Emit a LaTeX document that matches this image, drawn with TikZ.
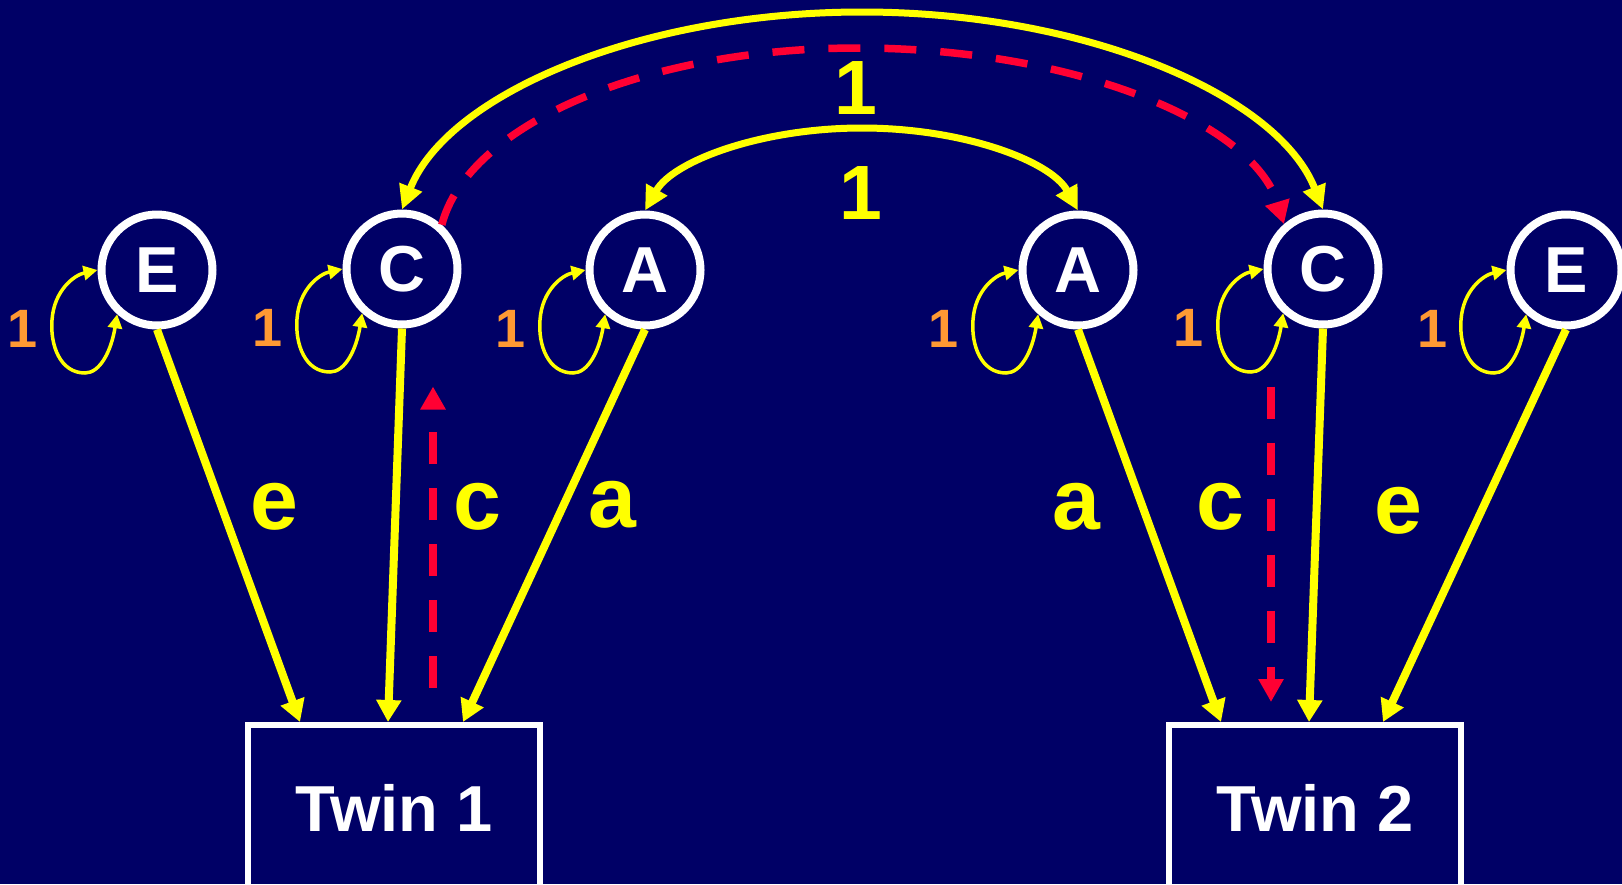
\documentclass[tikz,border=0pt]{standalone}
\usepackage{fontspec}
\setmainfont{Liberation Sans}
\usetikzlibrary{arrows.meta,calc}
\definecolor{bgnavy}{RGB}{0,0,102}
\definecolor{yel}{RGB}{255,255,0}
\definecolor{redd}{RGB}{255,0,51}
\definecolor{orng}{RGB}{255,153,51}
\newcommand\drawloop[1]{%
  \draw[loopst] (#1.-132) .. controls +(-6,37) and +(15,0) .. ($(#1)+(-72,103)$)
     .. controls +(-25,0) and +(-2,25) .. ($(#1)+(-105,50)$)
     .. controls +(2,-30) and +(-23,5) .. (#1.180);
  \node[varlab] (#1one) at ($(#1)+(-134,59)$) {1};}
\begin{document}
\begin{tikzpicture}[x=1pt,y=-1pt,
  latent/.style={circle,draw=white,line width=8pt,minimum size=111pt,inner sep=0pt,
    text=white,font=\fontsize{65}{65}\selectfont\bfseries},
  twin/.style={rectangle,draw=white,line width=6pt,minimum width=292pt,minimum height=166pt,
    anchor=north,text=white,font=\fontsize{65}{65}\selectfont\bfseries},
  ypath/.style={draw=yel,line width=8pt,-{Triangle[length=22pt,width=24pt]}},
  yarc/.style={draw=yel,line width=7pt,{Triangle[length=24pt,width=23pt]}-{Triangle[length=24pt,width=23pt]}},
  rdash/.style={draw=redd,line width=7.5pt,dash pattern=on 32pt off 24pt,-{Triangle[length=23pt,width=24pt]}},
  loopst/.style={draw=yel,line width=3.5pt,{Triangle[length=14pt,width=14pt]}-{Triangle[length=14pt,width=14pt]}},
  varlab/.style={text=orng,font=\fontsize{54}{54}\selectfont\bfseries,inner sep=0pt},
  plab/.style={text=yel,font=\fontsize{86}{86}\selectfont\bfseries,inner sep=0pt},
  corlab/.style={text=yel,font=\fontsize{77}{77}\selectfont\bfseries,inner sep=0pt}]
\useasboundingbox (0,0) rectangle (1622,884);
\clip (0,0) rectangle (1622,884);
\fill[bgnavy] (0,0) rectangle (1622,884);

% latent variables
\node[latent] (E1) at (157,270) {E};
\node[latent] (C1) at (402,269) {C};
\node[latent] (A1) at (645,270) {A};
\node[latent] (A2) at (1078,270) {A};
\node[latent] (C2) at (1323,269) {C};
\node[latent] (E2) at (1566,270) {E};

% observed twins
\node[twin] (T1) at (394,722) {Twin 1};
\node[twin] (T2) at (1315,722) {Twin 2};

% self loops (variances)
\drawloop{E1}
\drawloop{C1}
\drawloop{A1}
\drawloop{A2}
\drawloop{C2}
\drawloop{E2}

% paths
\draw[ypath] (E1.south) -- ([xshift=-94pt]T1.north);
\draw[ypath] (C1.south) -- ([xshift=-6pt]T1.north);
\draw[ypath] (A1.south) -- ([xshift=69pt]T1.north);
\draw[ypath] (A2.south) -- ([xshift=-94pt]T2.north);
\draw[ypath] (C2.south) -- ([xshift=-6pt]T2.north);
\draw[ypath] (E2.south) -- ([xshift=68pt]T2.north);

% path labels
\node[plab] (le1) at (274,507) {e};
\node[plab] (lc1) at (477,507) {c};
\node[plab] (la1) at (612,505) {a};
\node[plab] (la2) at (1076,507) {a};
\node[plab] (lc2) at (1220,507) {c};
\node[plab] (le2) at (1398,511) {e};

% correlations
\draw[yarc] (C1.north) .. controls (447,95) and (639,12) .. (862,12)
  .. controls (1085,12) and (1278,95) .. (C2.north);
\draw[yarc] (A1.north) .. controls (673,161) and (761,128) .. (862,128)
  .. controls (963,128) and (1051,161) .. (A2.north);
\node[corlab] (one1) at (856,88) {1};
\node[corlab] (one2) at (861,193) {1};

% red dashed (tracing) path
\coordinate (r1s) at ([xshift=39pt,yshift=34pt]T1.north);
\coordinate (r1e) at ([xshift=31pt,yshift=-58pt]C1.south);
\draw[rdash] (r1s) -- (r1e);
\draw[rdash] (C1.48) .. controls (468,124) and (647,48) .. (858,48)
  .. controls (1072,48) and (1253,122) .. (C2.131);
\coordinate (r2s) at ([xshift=-52pt,yshift=-58pt]C2.south);
\coordinate (r2e) at ([xshift=-44pt,yshift=20pt]T2.north);
\draw[rdash] (r2s) -- (r2e);
\end{tikzpicture}
\end{document}
